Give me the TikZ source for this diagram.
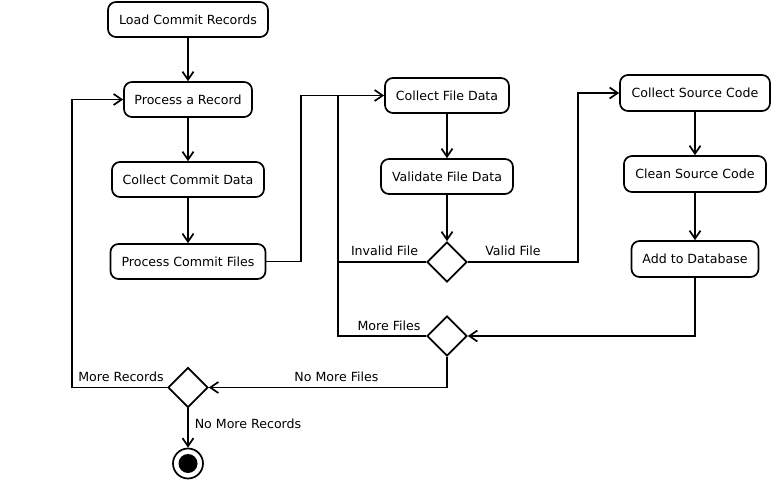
\documentclass[tikz,border=0pt]{standalone}
\usepackage{fontspec}
\setmainfont{DejaVu Sans}
\usetikzlibrary{shapes.geometric,arrows.meta}
\begin{document}
\begin{tikzpicture}[x=1bp,y=-1bp,
  every node/.style={font=\fontsize{12.6bp}{15bp}\selectfont},
  act/.style={draw,line width=1.7bp,rounded corners=8bp,minimum height=35bp,inner sep=0pt},
  dec/.style={draw,diamond,line width=1.7bp,minimum width=40bp,minimum height=40bp,inner sep=0pt},
  lbl/.style={inner sep=0pt},
  conn/.style={line width=1.7bp},
  arr/.style={conn,-{Straight Barb[length=8bp,width=11bp,line width=1.7bp]}}
]
\useasboundingbox (0,0) rectangle (771,480);
\node[act,minimum width=160bp] (load) at (188,19.5) {Load Commit Records};
\node[act,minimum width=128bp] (rec) at (188,99.5) {Process a Record};
\node[act,minimum width=152bp] (ccd) at (188,179.5) {Collect Commit Data};
\node[act,minimum width=155bp] (pcf) at (188,261.5) {Process Commit Files};
\node[act,minimum width=124bp] (cfd) at (447,95.5) {Collect File Data};
\node[act,minimum width=132bp] (vfd) at (447,176.5) {Validate File Data};
\node[dec] (d1) at (447,262) {};
\node[dec] (d2) at (447,336) {};
\node[act,minimum width=150bp,minimum height=36bp] (csc) at (695,93) {Collect Source Code};
\node[act,minimum width=142bp,minimum height=36bp] (clean) at (695,174) {Clean Source Code};
\node[act,minimum width=127bp,minimum height=36bp] (add) at (695,259) {Add to Database};
\node[dec] (d3) at (188,387.5) {};
\node[draw,circle,line width=1.7bp,minimum size=30bp,inner sep=0pt] (end) at (188,463.5) {};
\node[fill,circle,minimum size=19bp,inner sep=0pt] (endin) at (end) {};

\coordinate (j1) at (301,95.5);
\coordinate (j2) at (338,95.5);
\coordinate (j3) at (578,93);
\coordinate (j4) at (72,99.5);

\draw[arr] (load) -- (rec);
\draw[arr] (rec) -- (ccd);
\draw[arr] (ccd) -- (pcf);
\draw[arr] (pcf.east) -| (j1) -- (cfd.west);
\draw[arr] (cfd) -- (vfd);
\draw[arr] (vfd) -- (d1);
\draw[conn] (d1.west) -- (d1.west -| j2);
\draw[conn] (d2.west) -| (j2);
\draw[arr] (d1.east) -| (j3) -- (csc.west);
\draw[arr] (csc) -- (clean);
\draw[arr] (clean) -- (add);
\draw[arr] (add.south) |- (d2.east);
\draw[arr] (d2.south) |- (d3.east);
\draw[arr] (d3.west) -| (j4) -- (rec.west);
\draw[arr] (d3.south) -- (end.north);

\node[lbl] (lmr) at (121,377) {More Records};
\node[lbl] (linv) at (384.5,251) {Invalid File};
\node[lbl] (lval) at (513,251) {Valid File};
\node[lbl] (lmf) at (389,326) {More Files};
\node[lbl] (lnmf) at (336.5,377) {No More Files};
\node[lbl] (lnmr) at (248,424) {No More Records};
\end{tikzpicture}
\end{document}
